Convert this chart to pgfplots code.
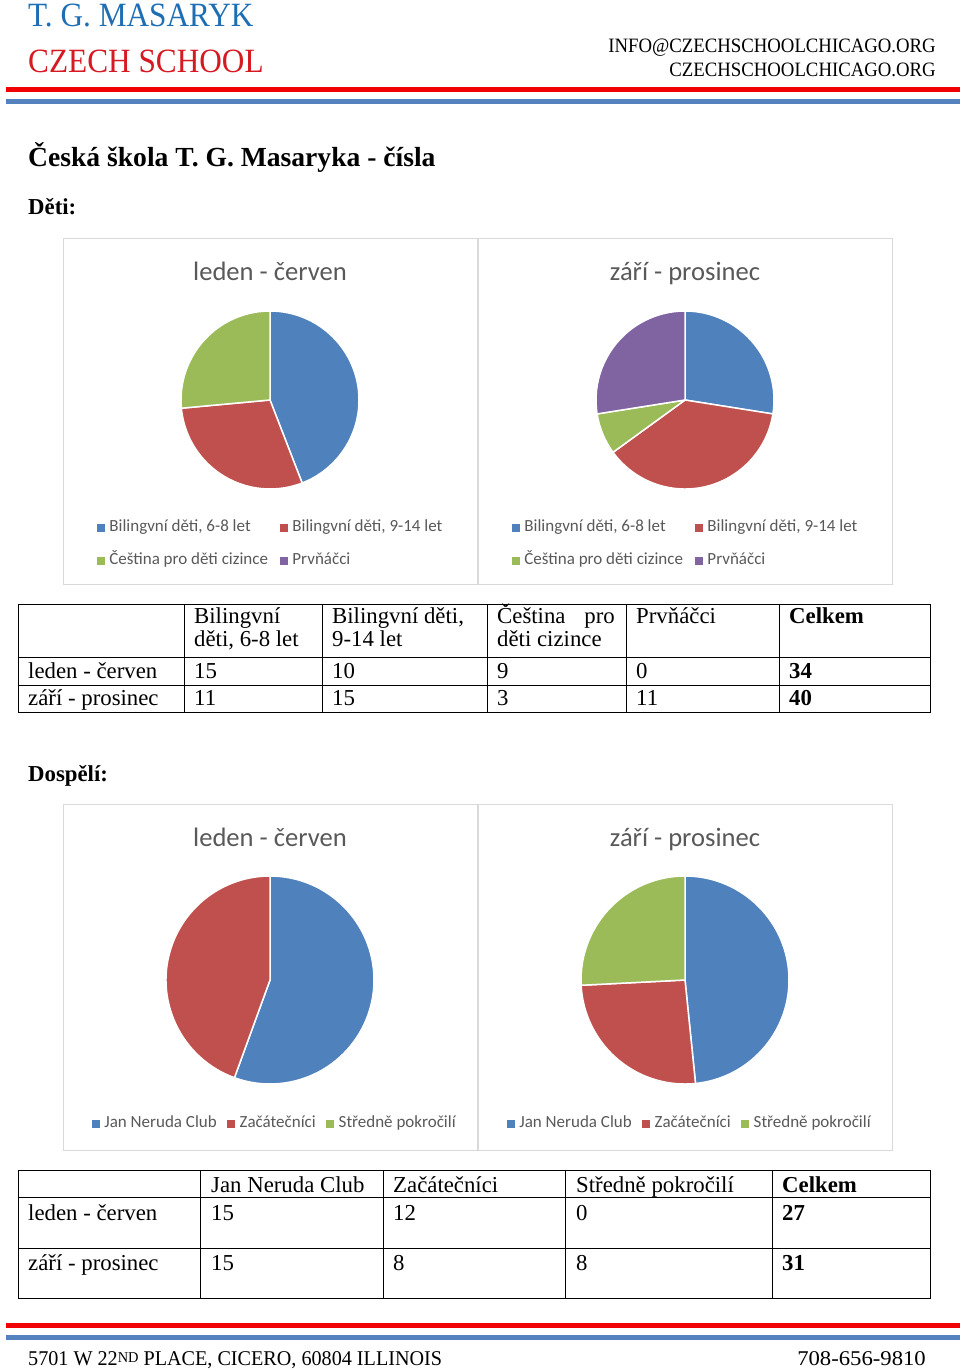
\documentclass[border=0pt]{standalone}
\usepackage{fontspec}
\setmainfont{Liberation Serif}
\newfontfamily\carlito{Carlito}
\usepackage{pgfplots}
\pgfplotsset{compat=1.18}

\definecolor{cBlue}{HTML}{4F81BD}
\definecolor{cRed}{HTML}{C0504D}
\definecolor{cGreen}{HTML}{9BBB59}
\definecolor{cPurple}{HTML}{8064A2}
\definecolor{hBlue}{RGB}{30,110,180}
\definecolor{hRed}{RGB}{215,25,35}
\definecolor{lineRed}{RGB}{240,0,0}
\definecolor{lineBlue}{RGB}{84,130,190}
\definecolor{txtGray}{HTML}{595959}
\definecolor{boxGray}{HTML}{D9D9D9}

\newcommand\fs[1]{\fontsize{#1}{#1}\selectfont}

% slices clockwise from 12 o'clock, like the spreadsheet does it
\newcommand\drawpie[2]{%
  \gdef\pietot{0}%
  \foreach \v/\c in {#2}{\pgfmathsetmacro\pietmp{\pietot+\v}\global\let\pietot\pietmp}%
  \gdef\piecum{0}%
  \foreach \v/\c in {#2}{%
    \pgfmathsetmacro\sa{90-360*\piecum/\pietot}%
    \pgfmathsetmacro\ea{90-360*(\piecum+\v)/\pietot}%
    \ifdim\v pt>0pt
      \fill[\c,draw=white,line width=1.5pt,line join=round]
        (axis cs:0,0) -- ++(\sa:#1pt) arc[start angle=\sa,end angle=\ea,radius=#1pt] -- cycle;
    \fi
    \pgfmathsetmacro\pietmp{\piecum+\v}\global\let\piecum\pietmp
  }%
}

\pgfplotsset{
  pieaxis/.style={anchor=center, hide axis, x=1pt, y=1pt,
    xmin=-120, xmax=120, ymin=-120, ymax=120, clip=false,
    legend cell align=left,
    legend image code/.code={\fill[##1] (0pt,-3.5pt) rectangle (7pt,3.5pt);},
    legend style={draw=none, fill=none, inner sep=0pt, outer sep=0pt,
      font=\carlito\fs{17}, text=txtGray,
      nodes={inner sep=0pt, outer sep=0pt, text height=12pt, text depth=4pt},
      row sep=17pt,
      /tikz/every odd column/.append style={column sep=5pt},
      /tikz/every even column/.append style={column sep=12pt}}},
  kidlegend/.style={legend columns=2,
    legend style={at={(axis cs:-173,-119.5)}, anchor=north west}},
  adultlegend/.style={legend columns=3,
    legend style={at={(axis cs:-178,-135.5)}, anchor=north west,
      /tikz/every even column/.append style={column sep=10.5pt}}},
}

\begin{document}
\begin{tikzpicture}[x=1pt,y=1pt]
\fill[white] (0,0) rectangle (960,-1369);

% header
\node[anchor=base west, inner sep=0, text=hBlue, font=\fs{34}] at (28,-26) {\scalebox{0.92}[1]{T. G. MASARYK}};
\node[anchor=base west, inner sep=0, text=hRed, font=\fs{34}] at (28,-72) {\scalebox{0.92}[1]{CZECH SCHOOL}};
\node[anchor=base east, inner sep=0, font=\fs{20.4}] at (936,-52) {\scalebox{0.92}[1]{INFO@CZECHSCHOOLCHICAGO.ORG}};
\node[anchor=base east, inner sep=0, font=\fs{20.4}] at (936,-76) {\scalebox{0.92}[1]{CZECHSCHOOLCHICAGO.ORG}};
\fill[lineRed] (6,-87.3) rectangle (960,-92);
\fill[lineBlue] (6,-99) rectangle (960,-104);

% headings
\node[anchor=base west, inner sep=0, font=\bfseries\fs{27.6}] at (28,-166) {Česká škola T. G. Masaryka - čísla};
\node[anchor=base west, inner sep=0, font=\bfseries\fs{22.8}] at (28,-214) {Děti:};
\node[anchor=base west, inner sep=0, font=\bfseries\fs{22.8}] at (28,-781) {Dospělí:};

% chart frames and titles
\draw[boxGray, line width=1pt] (63,-238) rectangle (477,-584);
\draw[boxGray, line width=1pt] (478,-238) rectangle (892,-584);
\draw[boxGray, line width=1pt] (63,-804) rectangle (477,-1150);
\draw[boxGray, line width=1pt] (478,-804) rectangle (892,-1150);
\begin{scope}[every node/.style={anchor=base, inner sep=0, text=txtGray, font=\carlito\fs{26.6}}]
\node at (270,-280) {leden - červen};
\node at (685,-280) {září - prosinec};
\node at (270,-846) {leden - červen};
\node at (685,-846) {září - prosinec};
\end{scope}

% children
\begin{axis}[pieaxis, kidlegend, at={(270,-400)}]
\addlegendimage{cBlue}\addlegendimage{cRed}\addlegendimage{cGreen}\addlegendimage{cPurple}
\legend{{Bilingvní děti, 6-8 let},{Bilingvní děti, 9-14 let},Čeština pro děti cizince,Prvňáčci}
\pgfplotsextra{\drawpie{89}{15/cBlue,10/cRed,9/cGreen,0/cPurple}}
\end{axis}
\begin{axis}[pieaxis, kidlegend, at={(685,-400)}]
\addlegendimage{cBlue}\addlegendimage{cRed}\addlegendimage{cGreen}\addlegendimage{cPurple}
\legend{{Bilingvní děti, 6-8 let},{Bilingvní děti, 9-14 let},Čeština pro děti cizince,Prvňáčci}
\pgfplotsextra{\drawpie{89}{11/cBlue,15/cRed,3/cGreen,11/cPurple}}
\end{axis}

% adults
\begin{axis}[pieaxis, adultlegend, at={(270,-980)}]
\addlegendimage{cBlue}\addlegendimage{cRed}\addlegendimage{cGreen}
\legend{Jan Neruda Club,Začátečníci,Středně pokročilí}
\pgfplotsextra{\drawpie{104}{15/cBlue,12/cRed,0/cGreen}}
\end{axis}
\begin{axis}[pieaxis, adultlegend, at={(685,-980)}]
\addlegendimage{cBlue}\addlegendimage{cRed}\addlegendimage{cGreen}
\legend{Jan Neruda Club,Začátečníci,Středně pokročilí}
\pgfplotsextra{\drawpie{104}{15/cBlue,8/cRed,8/cGreen}}
\end{axis}

% children table
\begin{scope}[line width=1pt]
\draw (18,-604) rectangle (930,-712);
\draw (18,-657) -- (930,-657) (18,-685) -- (930,-685);
\foreach \xx in {184,322,487,626,779} \draw (\xx,-604) -- (\xx,-712);
\end{scope}
\begin{scope}[every node/.style={anchor=base west, inner sep=0, font=\fs{22.8}}]
\node at (194,-623) {Bilingvní};
\node at (194,-646) {děti, 6-8 let};
\node at (332,-623) {Bilingvní děti,};
\node at (332,-646) {9-14 let};
\node at (497,-623) {Čeština};
\node[anchor=base east] at (615,-623) {pro};
\node at (497,-646) {děti cizince};
\node at (636,-623) {Prvňáčci};
\node at (789,-623) {\textbf{Celkem}};
\node at (28,-678) {leden - červen};
\node at (194,-678) {15};
\node at (332,-678) {10};
\node at (497,-678) {9};
\node at (636,-678) {0};
\node at (789,-678) {\textbf{34}};
\node at (28,-705) {září - prosinec};
\node at (194,-705) {11};
\node at (332,-705) {15};
\node at (497,-705) {3};
\node at (636,-705) {11};
\node at (789,-705) {\textbf{40}};
\end{scope}

% adults table
\begin{scope}[line width=1pt]
\draw (18,-1170) rectangle (930,-1298);
\draw (18,-1197) -- (930,-1197) (18,-1248) -- (930,-1248);
\foreach \xx in {200,383,565,772} \draw (\xx,-1170) -- (\xx,-1298);
\end{scope}
\begin{scope}[every node/.style={anchor=base west, inner sep=0, font=\fs{22.8}}]
\node at (211,-1192) {Jan Neruda Club};
\node at (393,-1192) {Začátečníci};
\node at (576,-1192) {Středně pokročilí};
\node at (782,-1192) {\textbf{Celkem}};
\node at (28,-1220) {leden - červen};
\node at (211,-1220) {15};
\node at (393,-1220) {12};
\node at (576,-1220) {0};
\node at (782,-1220) {\textbf{27}};
\node at (28,-1270) {září - prosinec};
\node at (211,-1270) {15};
\node at (393,-1270) {8};
\node at (576,-1270) {8};
\node at (782,-1270) {\textbf{31}};
\end{scope}

% footer
\fill[lineRed] (6,-1323.3) rectangle (960,-1328.3);
\fill[lineBlue] (6,-1335.3) rectangle (960,-1340.3);
\node[anchor=base west, inner sep=0, font=\fs{21}] at (28,-1365) {\scalebox{0.96}[1]{5701 W 22\raisebox{2.3pt}{\fs{15}ND} PLACE, CICERO, 60804 ILLINOIS}};
\node[anchor=base east, inner sep=0, font=\fs{21}] at (926,-1365) {\scalebox{1.08}[1]{708-656-9810}};
\end{tikzpicture}
\end{document}
